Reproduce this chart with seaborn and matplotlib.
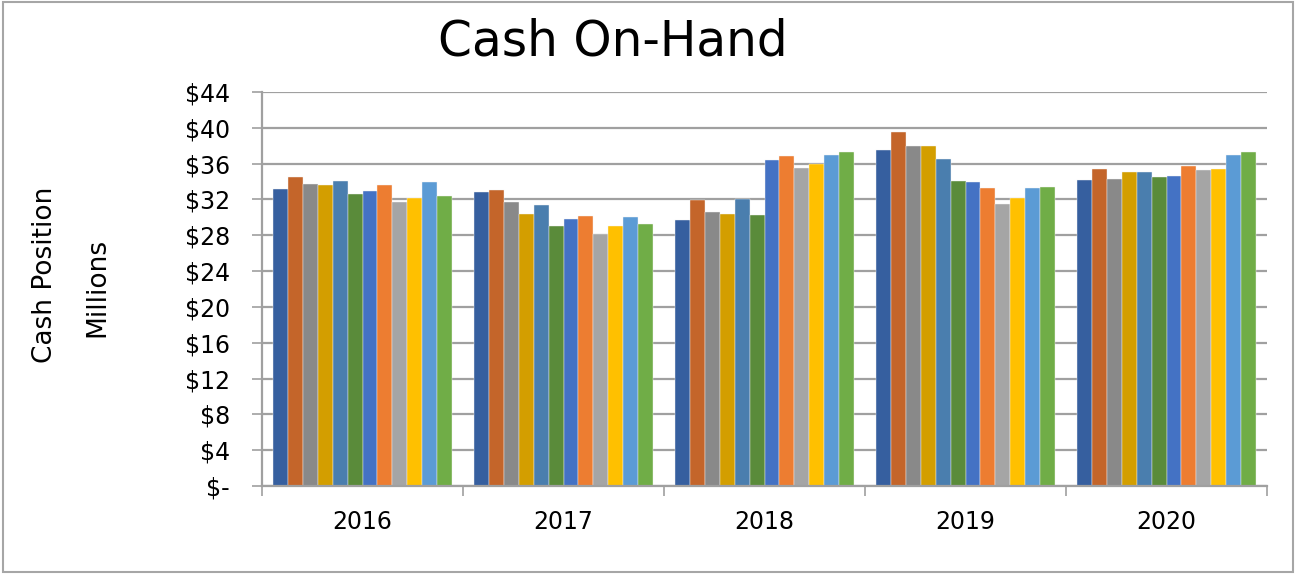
import matplotlib
matplotlib.use("Agg")
import matplotlib.pyplot as plt
from matplotlib.patches import Rectangle
from matplotlib.ticker import FuncFormatter, FixedLocator
import seaborn as sns
import pandas as pd
import numpy as np

# values (millions $), 12 series per year
years = ["2016", "2017", "2018", "2019", "2020"]
months = ["Jan", "Feb", "Mar", "Apr", "May", "Jun",
          "Jul", "Aug", "Sep", "Oct", "Nov", "Dec"]
cash_2016 = [33.2, 34.5, 33.7, 33.6, 34.1, 32.6, 32.9, 33.6, 31.7, 32.2, 33.9, 32.4]
cash_2017 = [32.8, 33.1, 31.7, 30.4, 31.4, 29.0, 29.8, 30.2, 28.1, 29.0, 30.0, 29.3]
cash_2018 = [29.7, 31.9, 30.6, 30.4, 32.0, 30.3, 36.4, 36.9, 35.5, 36.0, 37.0, 37.3]
cash_2019 = [37.5, 39.5, 38.0, 38.0, 36.5, 34.1, 34.0, 33.3, 31.5, 32.2, 33.3, 33.4]
cash_2020 = [34.2, 35.4, 34.3, 35.1, 35.1, 34.5, 34.6, 35.7, 35.3, 35.4, 37.0, 37.3]
yticks = list(range(0, 45, 4))

colors = ["#365F9F", "#C4652A", "#898989", "#D39E00", "#4A7EAE", "#5A8B3A",
          "#4472C4", "#ED7D31", "#A5A5A5", "#FFC000", "#5B9BD5", "#70AD47"]

rows = []
for yr, vals in zip(years, [cash_2016, cash_2017, cash_2018, cash_2019, cash_2020]):
    for m, v in zip(months, vals):
        rows.append({"year": yr, "month": m, "cash": v})
df = pd.DataFrame(rows)

sns.set_style("white")
plt.rcParams["font.family"] = ["DejaVu Sans"]
plt.rcParams["text.color"] = "black"
plt.rcParams["xtick.color"] = "black"
plt.rcParams["ytick.color"] = "black"

fig = plt.figure(figsize=(12.97, 5.74), dpi=100)
ax = fig.add_axes([262 / 1297, 1 - 486 / 574, (1267 - 262) / 1297, (486 - 92) / 574])

sns.barplot(data=df, x="year", y="cash", hue="month", palette=colors,
            saturation=1, width=0.89, errorbar=None, legend=False, ax=ax,
            edgecolor="#f4f4f4", linewidth=0.3)

ax.set_xlim(-0.5, 4.5)
ax.set_ylim(0, 44)
ax.set_yticks(yticks)
ax.yaxis.set_major_formatter(FuncFormatter(lambda v, p: "$-" if v == 0 else f"${v:.0f}"))
ax.grid(axis="y", color="#a0a0a0", linewidth=1.6)
ax.set_axisbelow(True)
ax.set_xlabel("")
ax.set_ylabel("")

for s in ["top", "right"]:
    ax.spines[s].set_visible(False)
for s in ["left", "bottom"]:
    ax.spines[s].set_color("#a0a0a0")
    ax.spines[s].set_linewidth(1.6)

ax.tick_params(axis="y", which="major", length=7, width=1.2, color="#a0a0a0",
               labelsize=17, pad=16, left=True, labelcolor="black")
ax.tick_params(axis="x", which="major", length=0, labelsize=17, pad=17, labelcolor="black")
ax.xaxis.set_minor_locator(FixedLocator(np.arange(-0.5, 5, 1)))
ax.tick_params(axis="x", which="minor", length=7, width=1.2, color="#a0a0a0", bottom=True)

fig.text(613 / 1297, 1 - 42 / 574, "Cash On-Hand", ha="center", va="center", fontsize=35)
fig.text(45 / 1297, 1 - 275 / 574, "Cash Position", rotation=90, ha="center", va="center", fontsize=19)
fig.text(97 / 1297, 1 - 287 / 574, "Millions", rotation=90, ha="center", va="center", fontsize=19)

fig.patches.append(Rectangle((0.002, 0.003), 0.995, 0.994, transform=fig.transFigure,
                             fill=False, edgecolor="#a6a6a6", linewidth=1.5))

fig.savefig("out.png", dpi=100)
